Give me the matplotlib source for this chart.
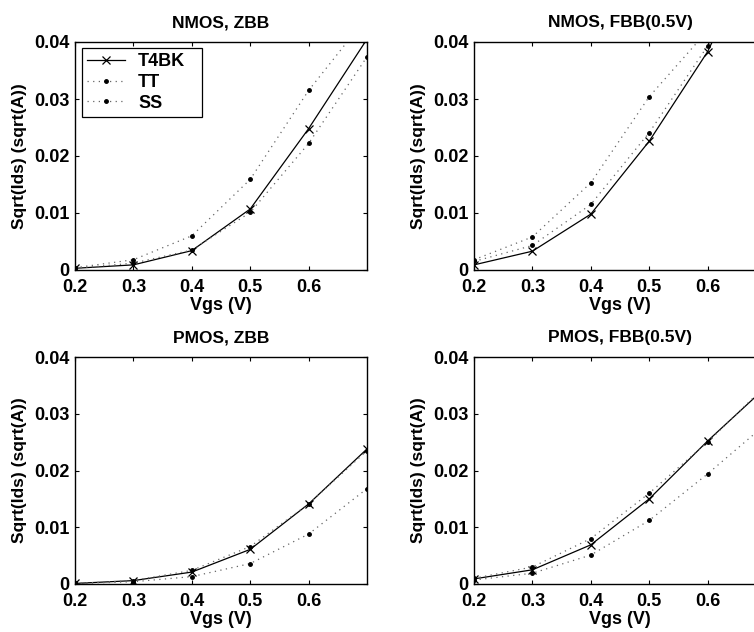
import matplotlib
matplotlib.use("Agg")
import matplotlib.pyplot as plt

plt.rcParams['font.family'] = ['Liberation Sans', 'DejaVu Sans']
plt.rcParams['font.weight'] = 'bold'

vgs = [0.2, 0.3, 0.4, 0.5, 0.6, 0.7]
x_ticks = [0.2, 0.3, 0.4, 0.5, 0.6]
y_ticks = [0, 0.01, 0.02, 0.03, 0.04]
y_ticklabels = ["0", "0.01", "0.02", "0.03", "0.04"]

titles = ["NMOS, ZBB", "NMOS, FBB(0.5V)", "PMOS, ZBB", "PMOS, FBB(0.5V)"]
series_names = ["T4BK", "TT", "SS"]

nmos_zbb_t4bk = [0.0003, 0.0009, 0.0034, 0.0107, 0.0248, 0.0405]
nmos_zbb_tt   = [0.0004, 0.0018, 0.0060, 0.0159, 0.0315, 0.0444]
nmos_zbb_ss   = [0.0003, 0.0012, 0.0035, 0.0101, 0.0222, 0.0374]

nmos_fbb_t4bk = [0.0009, 0.0033, 0.0098, 0.0226, 0.0383, 0.0600]
nmos_fbb_tt   = [0.0018, 0.0058, 0.0153, 0.0304, 0.0420, 0.0580]
nmos_fbb_ss   = [0.0015, 0.0043, 0.0115, 0.0241, 0.0393, 0.0550]

pmos_zbb_t4bk = [0.0001, 0.0006, 0.0021, 0.0061, 0.0141, 0.0238]
pmos_zbb_tt   = [0.0001, 0.0006, 0.0024, 0.0066, 0.0141, 0.0235]
pmos_zbb_ss   = [0.0001, 0.0004, 0.0013, 0.0036, 0.0088, 0.0168]

pmos_fbb_t4bk = [0.0009, 0.0025, 0.0069, 0.0150, 0.0252, 0.0347]
pmos_fbb_tt   = [0.0010, 0.0030, 0.0080, 0.0160, 0.0250, 0.0350]
pmos_fbb_ss   = [0.0007, 0.0019, 0.0051, 0.0112, 0.0194, 0.0282]

panels = [
    (nmos_zbb_t4bk, nmos_zbb_tt, nmos_zbb_ss),
    (nmos_fbb_t4bk, nmos_fbb_tt, nmos_fbb_ss),
    (pmos_zbb_t4bk, pmos_zbb_tt, pmos_zbb_ss),
    (pmos_fbb_t4bk, pmos_fbb_tt, pmos_fbb_ss),
]

W, H = 754, 632
fig = plt.figure(figsize=(W / 100, H / 100), dpi=100)

# axes boxes in pixels: (left, top, right, bottom)
boxes = [
    (75, 42, 367, 270),
    (474, 42, 766, 270),
    (75, 357, 367, 584),
    (474, 357, 766, 584),
]

for i, (box, data) in enumerate(zip(boxes, panels)):
    l, t, r, b = box
    ax = fig.add_axes([l / W, (H - b) / H, (r - l) / W, (b - t) / H])
    t4, tt, ss = data
    ax.plot(vgs, t4, color='black', lw=0.9, marker='x', ms=6, mew=0.9,
            label=series_names[0])
    ax.plot(vgs, tt, color='0.4', lw=0.9, ls=(0, (1, 3.5)), marker='.', ms=5,
            mfc='black', mec='black', label=series_names[1])
    ax.plot(vgs, ss, color='0.4', lw=0.9, ls=(0, (1, 3.5)), marker='.', ms=5,
            mfc='black', mec='black', label=series_names[2])
    ax.set_xlim(0.2, 0.7)
    ax.set_ylim(0, 0.04)
    ax.set_xticks(x_ticks)
    ax.set_xticklabels([f"{v:.1f}" for v in x_ticks])
    ax.set_yticks(y_ticks)
    ax.set_yticklabels(y_ticklabels)
    ax.tick_params(direction='in', top=True, right=True, length=3, width=0.8,
                   labelsize=13)
    ax.tick_params(axis='x', pad=6.5)
    ax.tick_params(axis='y', pad=4)
    for lab in ax.get_xticklabels() + ax.get_yticklabels():
        lab.set_fontweight('bold')
    for sp in ax.spines.values():
        sp.set_linewidth(1.0)
    ax.set_title(titles[i], fontsize=12.5, fontweight='bold', pad=10.5)
    ax.set_xlabel("Vgs (V)", fontsize=13, fontweight='bold', labelpad=1)
    ax.set_ylabel("Sqrt(Ids) (sqrt(A))", fontsize=12.5, fontweight='bold')
    ax.yaxis.set_label_coords(-0.165, 0.5)
    if i == 0:
        leg = ax.legend(loc='upper left', mode='expand',
                        bbox_to_anchor=(0.024, 0.5, 0.411, 0.4737),
                        fancybox=False, edgecolor='black',
                        framealpha=1, prop={'weight': 'bold', 'size': 13},
                        handlelength=2.1, borderpad=0.3, labelspacing=0.2,
                        borderaxespad=0.0, handletextpad=0.7)
        leg.get_frame().set_linewidth(0.9)

fig.savefig("out.png", dpi=100)
